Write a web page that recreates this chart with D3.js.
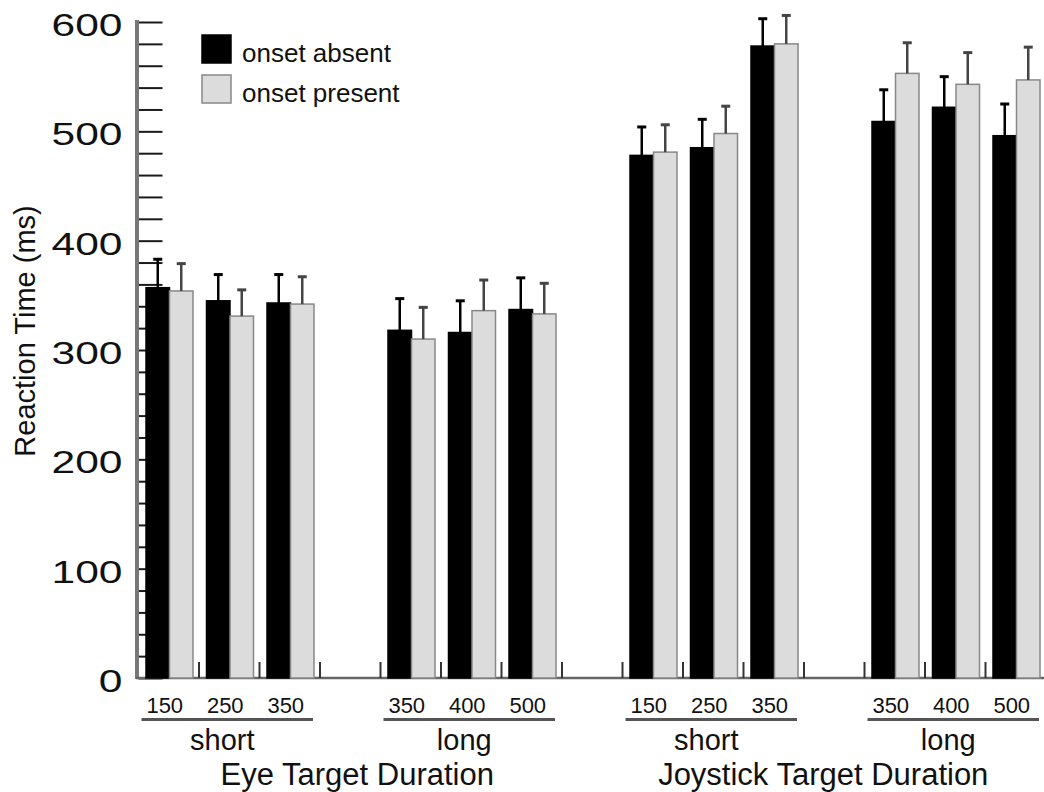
<!DOCTYPE html>
<html>
<head>
<meta charset="utf-8">
<style>
  body { margin: 0; background: #fff; }
  text { font-family: "Liberation Sans", Arial, Helvetica, sans-serif; fill: #111; }
</style>
<script src="https://d3js.org/d3.v7.min.js"></script>
</head>
<body>
<script>
// Data
var tasks = ["Eye Target Duration", "Joystick Target Duration"];
var durations = ["short", "long"];
var targetMs = { "short": ["150", "250", "350"], "long": ["350", "400", "500"] };
var conditions = ["onset absent", "onset present"];

// bar means, in order Eye short 150/250/350, Eye long 350/400/500, Joystick short..., Joystick long...
var absentRT  = [357, 345, 343, 318, 316, 337, 478, 485, 578, 509, 522, 496];
var absentErr = [26, 24, 26, 29, 29, 29, 26, 26, 25, 29, 28, 29];
var presentRT  = [354, 331, 342, 310, 336, 333, 481, 498, 580, 553, 543, 547];
var presentErr = [25, 24, 25, 29, 28, 28, 25, 25, 26, 28, 29, 30];

var yTicks = [0, 100, 200, 300, 400, 500, 600];

var width = 1044, height = 792;
var x0 = 138.5, x1end = 1046, yBase = 678, yTop = 22;

// build slot list: 3 bars per group, one empty slot between groups
var rows = [], slots = [], groups = [];
tasks.forEach(function(t, ti) {
  durations.forEach(function(d, di) {
    var g = { task: t, dur: d, slots: [] };
    targetMs[d].forEach(function(ms) {
      var key = t + "|" + d + "|" + ms;
      var i = rows.length;
      rows.push({ key: key, ms: ms, values: [
        { cond: conditions[0], v: absentRT[i], e: absentErr[i] },
        { cond: conditions[1], v: presentRT[i], e: presentErr[i] } ] });
      slots.push(key);
      g.slots.push(key);
    });
    groups.push(g);
    if (!(ti == tasks.length - 1 && di == durations.length - 1)) slots.push("gap" + slots.length);
  });
});

var x = d3.scaleBand().domain(slots).range([x0, x1end]).padding(0);
var xc = d3.scaleBand().domain(conditions).range([7.5, 54.5]).padding(0);
var y = d3.scaleLinear().domain([0, 600]).range([yBase, yTop]);
var fill = d3.scaleOrdinal().domain(conditions).range(["#000", "#dcdcdc"]);
var errColor = d3.scaleOrdinal().domain(conditions).range(["#000", "#444"]);

var svg = d3.select("body").append("svg")
  .attr("width", width).attr("height", height);

// y ticks (every 20), drawn to the right of the axis line
svg.append("g")
  .attr("transform", "translate(" + x0 + ",0)")
  .call(d3.axisRight(y).tickValues(d3.range(0, 601, 20)).tickSize(24).tickFormat(""))
  .call(g => g.select(".domain").remove())
  .call(g => g.selectAll("line").attr("stroke", "#1a1a1a").attr("stroke-width", 2));

// y tick labels, wide digits
svg.append("g")
  .attr("transform", "translate(" + x0 + ",0)")
  .call(d3.axisLeft(y).tickValues(yTicks).tickSize(0).tickFormat(d3.format("d")))
  .call(g => g.select(".domain").remove())
  .call(g => g.selectAll("text")
      .attr("x", 0).attr("dy", "0.42em")
      .attr("font-size", 32)
      .attr("fill", "#111")
      .attr("transform", "translate(-16,0) scale(1.33,1)"));

// y axis line + baseline
svg.append("line").attr("x1", 137).attr("x2", 137).attr("y1", yTop - 2).attr("y2", yBase + 1)
  .attr("stroke", "#777").attr("stroke-width", 4);
svg.append("line").attr("x1", 136).attr("x2", width).attr("y1", yBase).attr("y2", yBase)
  .attr("stroke", "#666").attr("stroke-width", 2.5);

// small ticks at slot boundaries on the baseline
svg.append("g").selectAll("line")
  .data(slots.slice(1))
  .join("line")
  .attr("x1", d => x(d)).attr("x2", d => x(d))
  .attr("y1", yBase).attr("y2", yBase - 16)
  .attr("stroke", "#333").attr("stroke-width", 2);

// y label
svg.append("text")
  .attr("transform", "translate(35," + 331 + ") rotate(-90)")
  .attr("text-anchor", "middle")
  .attr("font-size", 29)
  .attr("fill", "#222")
  .text("Reaction Time (ms)");

// bars
var row = svg.append("g").selectAll("g")
  .data(rows)
  .join("g")
  .attr("transform", d => "translate(" + x(d.key) + ",0)");

row.selectAll("rect")
  .data(d => d.values)
  .join("rect")
  .attr("x", d => xc(d.cond))
  .attr("width", xc.bandwidth())
  .attr("y", d => y(d.v))
  .attr("height", d => y(0) - y(d.v))
  .attr("fill", d => fill(d.cond))
  .attr("stroke", d => d.cond == conditions[1] ? "#888" : "#000")
  .attr("stroke-width", 1.5);

// error bars
row.selectAll("path.err")
  .data(d => d.values)
  .join("path")
  .attr("class", "err")
  .attr("fill", "none")
  .attr("stroke", d => errColor(d.cond))
  .attr("stroke-width", 2.5)
  .attr("d", d => {
    var cx = xc(d.cond) + xc.bandwidth() / 2;
    return "M" + cx + "," + y(d.v) + "V" + y(d.v + d.e);
  });
row.selectAll("line.cap")
  .data(d => d.values)
  .join("line")
  .attr("class", "cap")
  .attr("x1", d => xc(d.cond) + xc.bandwidth() / 2 - 4.5)
  .attr("x2", d => xc(d.cond) + xc.bandwidth() / 2 + 4.5)
  .attr("y1", d => y(d.v + d.e)).attr("y2", d => y(d.v + d.e))
  .attr("stroke", d => errColor(d.cond))
  .attr("stroke-width", 3);

// x labels: target durations
svg.append("g").selectAll("text")
  .data(rows)
  .join("text")
  .attr("x", d => x(d.key) + x.bandwidth() / 2 - 4)
  .attr("y", 713)
  .attr("text-anchor", "middle")
  .attr("font-size", 22)
  .attr("fill", "#222")
  .text(d => d.ms);

// group underline + short/long
var grp = svg.append("g").selectAll("g")
  .data(groups)
  .join("g");
grp.append("line")
  .attr("x1", d => x(d.slots[0]) + 3)
  .attr("x2", d => x(d.slots[2]) + x.bandwidth() - 7)
  .attr("y1", 719.5).attr("y2", 719.5)
  .attr("stroke", "#555").attr("stroke-width", 3);
grp.append("text")
  .attr("x", d => (x(d.slots[0]) + x(d.slots[2]) + x.bandwidth()) / 2 - 7)
  .attr("y", 750)
  .attr("text-anchor", "middle")
  .attr("font-size", 29)
  .attr("fill", "#222")
  .text(d => d.dur);

// task titles
var taskShift = [7, -11];
svg.append("g").selectAll("text")
  .data(tasks)
  .join("text")
  .attr("x", (t, i) => {
    var gs = groups.filter(g => g.task == t);
    return (x(gs[0].slots[0]) + x(gs[1].slots[2]) + x.bandwidth()) / 2 + taskShift[i];
  })
  .attr("y", 785)
  .attr("text-anchor", "middle")
  .attr("font-size", 31)
  .attr("fill", "#1a1a1a")
  .text(t => t);

// legend
var leg = svg.append("g").selectAll("g")
  .data(conditions)
  .join("g")
  .attr("transform", (d, i) => "translate(202," + (35 + i * 40) + ")");
leg.append("rect")
  .attr("width", 29).attr("height", 28)
  .attr("fill", d => fill(d))
  .attr("stroke", d => d == conditions[1] ? "#888" : "#000")
  .attr("stroke-width", 1.5);
leg.append("text")
  .attr("x", 40).attr("y", 27)
  .attr("font-size", 26)
  .attr("fill", "#222")
  .text(d => d);
</script>
</body>
</html>
